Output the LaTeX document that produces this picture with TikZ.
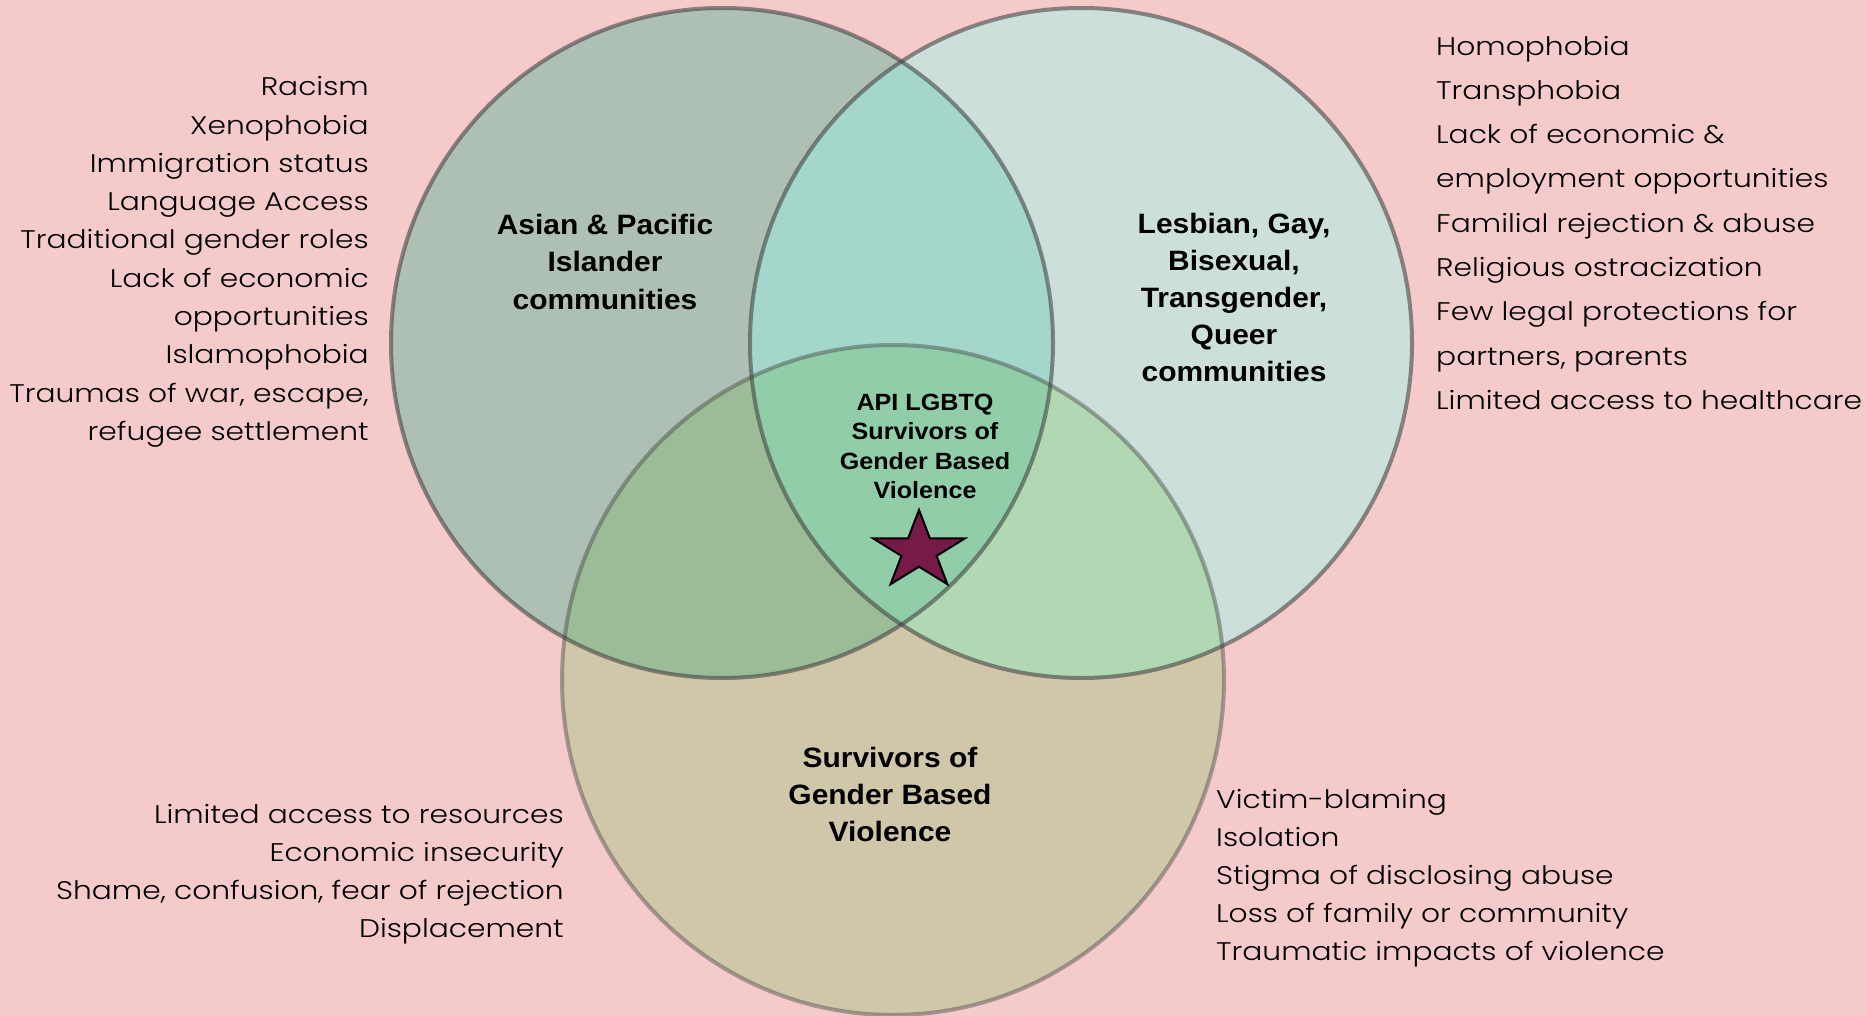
\documentclass[tikz,border=0pt]{standalone}
\usepackage{fontspec}
\IfFontExistsTF{Poppins Light}{\newfontfamily\listfont{Poppins Light}[FakeStretch=1.165]}{\newfontfamily\listfont{Lato Light}[FakeStretch=1.35]}
\newfontfamily\labelfont{Liberation Sans}[FakeStretch=1.07]
\definecolor{bgpink}{HTML}{F4CACB}
\definecolor{colA}{HTML}{AEBFB3}
\definecolor{colB}{HTML}{CDDFDA}
\definecolor{colC}{HTML}{D0C6A9}
\definecolor{colAB}{HTML}{A4D6CB}
\definecolor{colAC}{HTML}{9CBC97}
\definecolor{colBC}{HTML}{B1D7B3}
\definecolor{colABC}{HTML}{92CDA9}
\definecolor{starfill}{HTML}{761A47}
\definecolor{edgegray}{HTML}{3A3A3A}
\begin{document}
\begin{tikzpicture}[x=1pt,y=-1pt,
  ring/.style={draw=edgegray,draw opacity=0.55,line width=4pt},
  ringlight/.style={draw=edgegray,draw opacity=0.4,line width=4pt},
  listR/.style={font=\listfont\fontsize{25.5}{38.3}\selectfont,inner sep=0pt,align=right,anchor=base east},
  listL/.style={font=\listfont\fontsize{25.5}{38.3}\selectfont,inner sep=0pt,align=left,anchor=base west},
  biglabel/.style={font=\labelfont\bfseries\fontsize{28}{37}\selectfont,inner sep=0pt,align=center,anchor=base},
  smalllabel/.style={font=\labelfont\bfseries\fontsize{23.5}{29.5}\selectfont,inner sep=0pt,align=center,anchor=base}]
\useasboundingbox (0,0) rectangle (1866,1016);
\fill[bgpink] (0,0) rectangle (1866,1016);
\coordinate (cA) at (722,343);
\coordinate (cB) at (1081,343);
\coordinate (cC) at (893,680);
% single fills
\fill[colA] (cA) ellipse [x radius=331,y radius=335];
\fill[colB] (cB) ellipse [x radius=331,y radius=335];
\fill[colC] (cC) ellipse [x radius=331,y radius=335];
% pairwise
\begin{scope}
  \clip (cA) ellipse [x radius=331,y radius=335];
  \fill[colAB] (cB) ellipse [x radius=331,y radius=335];
  \fill[colAC] (cC) ellipse [x radius=331,y radius=335];
\end{scope}
\begin{scope}
  \clip (cB) ellipse [x radius=331,y radius=335];
  \fill[colBC] (cC) ellipse [x radius=331,y radius=335];
\end{scope}
\begin{scope}
  \clip (cA) ellipse [x radius=331,y radius=335];
  \clip (cB) ellipse [x radius=331,y radius=335];
  \fill[colABC] (cC) ellipse [x radius=331,y radius=335];
\end{scope}
% outlines
\draw[ring] (cA) ellipse [x radius=331,y radius=335];
\draw[ring] (cB) ellipse [x radius=331,y radius=335];
\draw[ringlight] (cC) ellipse [x radius=331,y radius=335];
% star
\draw[fill=starfill,draw=black,line width=2pt,line join=miter]
  (919,510) -- (929.9,538.3) -- (965,538.3) -- (936.6,555.9) -- (947.4,584.2)
  -- (919,566.7) -- (890.6,584.2) -- (901.4,555.9) -- (873,538.3) -- (908.1,538.3) -- cycle;
% labels (anchor base = baseline of last line)
\node[biglabel] (api) at (605,309) {Asian \& Pacific\\Islander\\communities};
\node[biglabel] (lgbtq) at (1234,381.8) {Lesbian, Gay,\\Bisexual,\\Transgender,\\Queer\\communities};
\node[biglabel] (gbv) at (890,841) {Survivors of\\Gender Based\\Violence};
\node[smalllabel] (center) at (925,498.5) {API LGBTQ\\Survivors of\\Gender Based\\Violence};
% lists
\node[listR] (listA) at (369,440.4) {Racism\\Xenophobia\\Immigration status\\Language Access\\Traditional gender roles\\Lack of economic\\opportunities\\Islamophobia\\Traumas of war, escape,\\refugee settlement};
\node[listL,font=\listfont\fontsize{25.5}{44.3}\selectfont] (listB) at (1436,409.4) {Homophobia\\Transphobia\\Lack of economic \&\\employment opportunities\\Familial rejection \& abuse\\Religious ostracization\\Few legal protections for\\partners, parents\\Limited access to healthcare};
\node[listR,font=\listfont\fontsize{25.5}{38}\selectfont] (listC) at (564,937) {Limited access to resources\\Economic insecurity\\Shame, confusion, fear of rejection\\Displacement};
\node[listL,font=\listfont\fontsize{25.5}{38}\selectfont] (listD) at (1216,960) {Victim-blaming\\Isolation\\Stigma of disclosing abuse\\Loss of family or community\\Traumatic impacts of violence};
\end{tikzpicture}
\end{document}
